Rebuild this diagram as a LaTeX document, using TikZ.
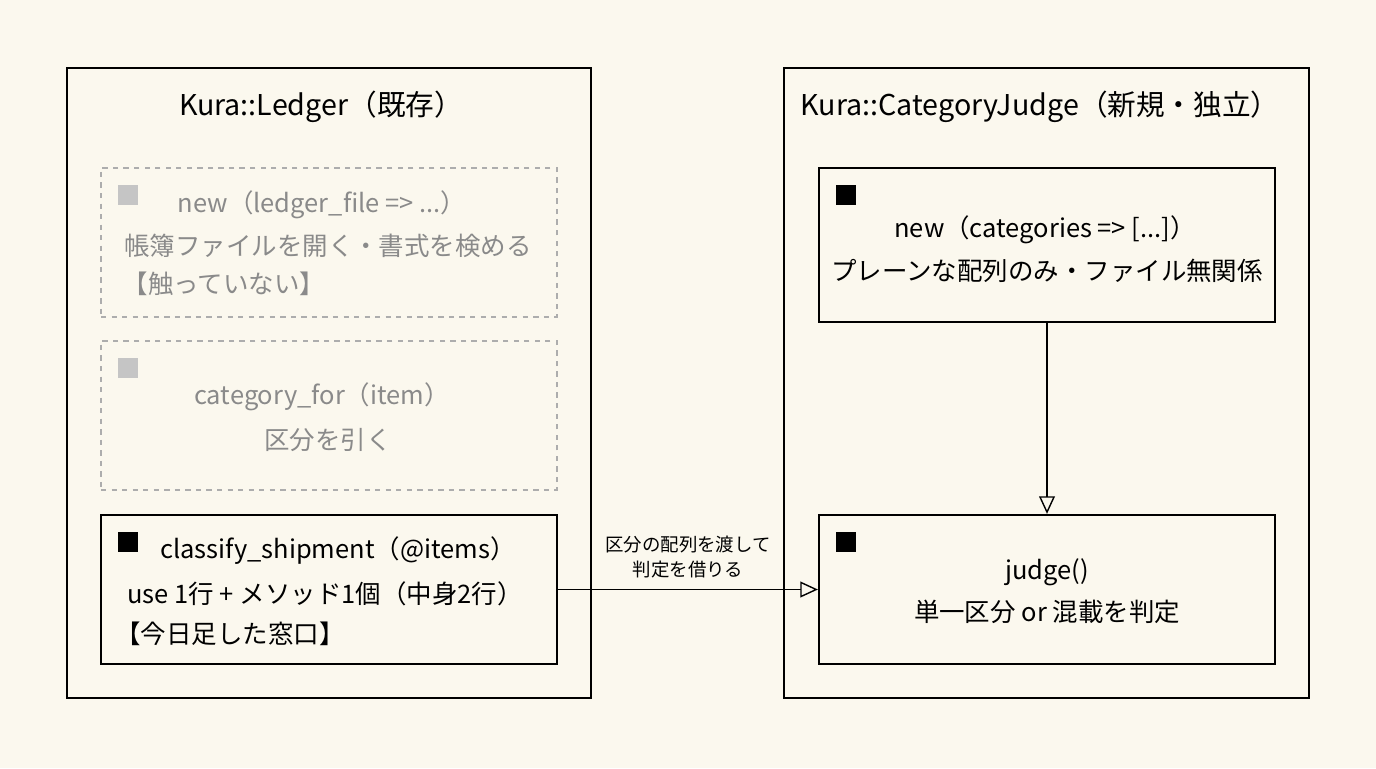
\documentclass[tikz,border=0pt]{standalone}
\usepackage{fontspec}
\setmainfont{Noto Sans CJK JP}
\usetikzlibrary{arrows.meta}
\definecolor{paper}{HTML}{FBF8EE}
\definecolor{faded}{HTML}{8A8A8A}
\tikzset{
  frame/.style={draw=black,line width=1.3pt},
  inbox/.style={draw=black,line width=1.3pt,minimum width=9.12cm,minimum height=2.98cm},
  ghost/.style={draw=faded!70,dashed,line width=0.9pt,minimum width=9.12cm,minimum height=2.98cm},
  bullet/.style={fill=black,minimum size=0.4cm,inner sep=0pt},
  txt/.style={font=\fontsize{14.5}{16}\selectfont},
  ttl/.style={font=\fontsize{16.3}{18}\selectfont},
  flow/.style={-{Triangle[open,length=10pt,width=9pt]},line width=0.8pt}
}
\begin{document}
\begin{tikzpicture}[x=0.02cm,y=-0.02cm]
  \fill[paper] (0,0) rectangle (1376,768);
  \useasboundingbox (0,0) rectangle (1376,768);

  % left module
  \draw[frame] (67,68) rectangle (591,698);
  \node[ttl] (ledger) at (321,107) {Kura::Ledger（既存）};

  \node[ghost] (oldnew) at (329,242.5) {};
  \node[bullet,fill=faded!50] at (128,195) {};
  \node[txt,text=faded] at (322,205) {new（ledger\_file => ...）};
  \node[txt,text=faded] at (328,246) {帳簿ファイルを開く・書式を検める};
  \node[txt,text=faded] at (224,284) {【触っていない】};

  \node[ghost] (catfor) at (329,415.5) {};
  \node[bullet,fill=faded!50] at (128,368) {};
  \node[txt,text=faded] at (322,397) {category\_for（item）};
  \node[txt,text=faded] at (328,440) {区分を引く};

  \node[inbox] (classify) at (329,589.5) {};
  \node[bullet] at (128,542) {};
  \node[txt] at (338,551) {classify\_shipment（@items）};
  \node[txt] at (325,594) {use 1行 + メソッド1個（中身2行）};
  \node[txt] at (230,634) {【今日足した窓口】};

  % right module
  \draw[frame] (784,68) rectangle (1309,698);
  \node[ttl] (judgemod) at (1040,107) {Kura::CategoryJudge（新規・独立）};

  \node[inbox,minimum height=3.08cm] (ctor) at (1047,245) {};
  \node[bullet] at (846,195) {};
  \node[txt] at (1045,230) {new（categories => [...]）};
  \node[txt] at (1047,271) {プレーンな配列のみ・ファイル無関係};

  \node[inbox] (judge) at (1047,589.5) {};
  \node[bullet] at (846,542) {};
  \node[txt] at (1047,572) {judge()};
  \node[txt] at (1047,612) {単一区分 or 混載を判定};

  \draw[flow] (ctor) -- (judge);
  \draw[flow] (classify) -- node[above=3pt,align=center,font=\fontsize{10.5}{14}\selectfont]{区分の配列を渡して\\判定を借りる} (judge);
\end{tikzpicture}
\end{document}
